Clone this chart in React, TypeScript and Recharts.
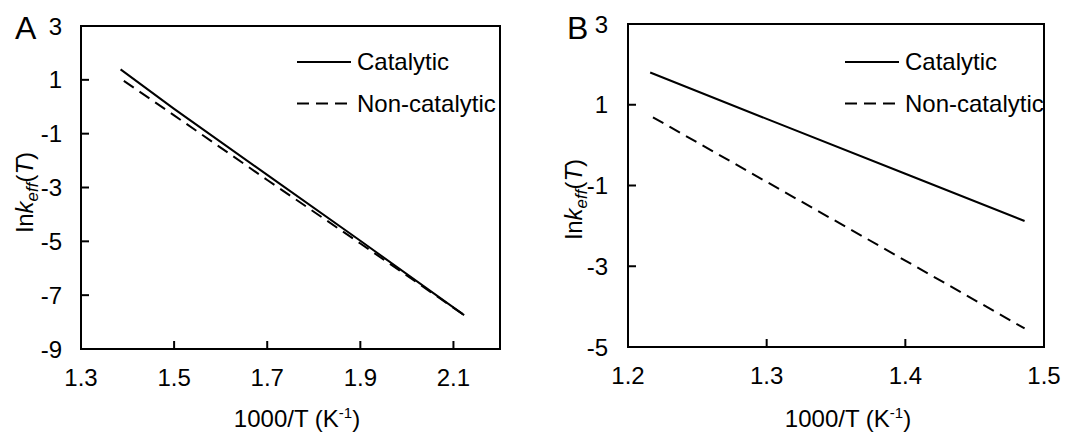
import { LineChart, Line, XAxis, YAxis, Legend, ReferenceArea, Customized } from "recharts";

// ─── DATA ────────────────────────────────────────────────────────────

const SERIES_NAMES = ["Catalytic", "Non-catalytic"];

// Panel A: ln k_eff vs 1000/T
const aCatalyticX = [1.385, 1.5, 1.7, 1.9, 2.123];
const aCatalyticY = [1.39, -0.08, -2.53, -4.98, -7.74];
const aNonCatalyticX = [1.392, 1.5, 1.7, 1.9, 2.123];
const aNonCatalyticY = [0.96, -0.32, -2.72, -5.08, -7.74];
const aXTicks = [1.3, 1.5, 1.7, 1.9, 2.1];
const aYTicks = [-9, -7, -5, -3, -1, 1, 3];

// Panel B
const bCatalyticX = [1.216, 1.3, 1.4, 1.486];
const bCatalyticY = [1.8, 0.65, -0.71, -1.88];
const bNonCatalyticX = [1.218, 1.3, 1.4, 1.486];
const bNonCatalyticY = [0.69, -0.91, -2.86, -4.54];
const bXTicks = [1.2, 1.3, 1.4, 1.5];
const bYTicks = [-5, -3, -1, 1, 3];

const toPoints = (xs: number[], ys: number[]) => xs.map((x, i) => ({ x, y: ys[i] }));

// ─── STYLE ───────────────────────────────────────────────────────────

const FONT = '"Liberation Sans", Arial, sans-serif';
const FS = 24;
const DASH = "12 7";
const dashFor: Record<string, string | undefined> = {
  Catalytic: undefined,
  "Non-catalytic": DASH,
};

// ─── PIECES ──────────────────────────────────────────────────────────

function LegendBox({ payload }: any) {
  const items = (payload ?? []) as any[];
  return (
    <svg width={230} height={90} style={{ overflow: "visible" }}>
      {items.map((it, i) => {
        const y = 22 + i * 41.5;
        return (
          <g key={it.value}>
            <line x1={0} x2={54} y1={y} y2={y} stroke="#000" strokeWidth={2} strokeDasharray={dashFor[it.value]} />
            <text x={60} y={y + 8} fontFamily={FONT} fontSize={FS} fill="#000">
              {it.value}
            </text>
          </g>
        );
      })}
    </svg>
  );
}

function Titles({ letter, letterX, yLabelX, yLabelY, xLabelX }: any) {
  return (
    <g fontFamily={FONT} fill="#000">
      <text x={letterX} y={38.5} fontSize={32}>
        {letter}
      </text>
      <text
        x={yLabelX}
        y={yLabelY}
        fontSize={FS}
        textAnchor="middle"
        transform={`rotate(-90 ${yLabelX} ${yLabelY})`}
      >
        ln<tspan fontStyle="italic">k</tspan>
        <tspan fontStyle="italic" fontSize={17} dy={5}>
          eff
        </tspan>
        <tspan dy={-5}>(</tspan>
        <tspan fontStyle="italic">T</tspan>)
      </text>
      <text x={xLabelX} y={427} fontSize={FS} textAnchor="middle">
        1000/T (K
        <tspan fontSize={15} dy={-9}>
          -1
        </tspan>
        <tspan dy={9}>)</tspan>
      </text>
    </g>
  );
}

type PanelProps = {
  left: number;
  width: number;
  margin: { top: number; right: number; bottom: number; left: number };
  xDomain: [number, number];
  yDomain: [number, number];
  xTicks: number[];
  yTicks: number[];
  cat: { x: number; y: number }[];
  nonCat: { x: number; y: number }[];
  yTickGap: number;
  legendLeft: number;
  titles: any;
};

function Panel(p: PanelProps) {
  const axisLine = { stroke: "#000", strokeWidth: 2 };
  const tickLine = { stroke: "#000", strokeWidth: 2 };
  const tickStyle = { fill: "#000", fontSize: FS, fontFamily: FONT };
  return (
    <div style={{ position: "absolute", left: p.left, top: 0 }}>
      <LineChart width={p.width} height={434} margin={p.margin}>
        <XAxis
          type="number"
          dataKey="x"
          domain={p.xDomain}
          ticks={p.xTicks}
          allowDataOverflow
          height={40}
          axisLine={axisLine}
          tickLine={tickLine}
          tickSize={-8}
          tickMargin={28}
          tick={tickStyle}
          tickFormatter={(v: number) => v.toFixed(1)}
          interval={0}
        />
        <YAxis
          type="number"
          dataKey="y"
          domain={p.yDomain}
          ticks={p.yTicks}
          allowDataOverflow
          width={60}
          axisLine={axisLine}
          tickLine={tickLine}
          tickSize={-8}
          tickMargin={8 + p.yTickGap}
          tick={tickStyle}
          interval={0}
        />
        <ReferenceArea
          x1={p.xDomain[0]}
          x2={p.xDomain[1]}
          y1={p.yDomain[0]}
          y2={p.yDomain[1]}
          fill="none"
          stroke="#000"
          strokeWidth={2}
        />
        <Line
          data={p.cat}
          dataKey="y"
          name={SERIES_NAMES[0]}
          stroke="#000"
          strokeWidth={2}
          dot={false}
          isAnimationActive={false}
        />
        <Line
          data={p.nonCat}
          dataKey="y"
          name={SERIES_NAMES[1]}
          stroke="#000"
          strokeWidth={2}
          strokeDasharray={DASH}
          dot={false}
          isAnimationActive={false}
        />
        <Legend
          layout="vertical"
          align="center"
          verticalAlign="middle"
          content={<LegendBox />}
          wrapperStyle={{ left: p.legendLeft, top: 40, width: 230 }}
        />
        <Customized component={() => <Titles {...p.titles} />} />
      </LineChart>
    </div>
  );
}

// ─── APP ─────────────────────────────────────────────────────────────

export default function App() {
  return (
    <div style={{ position: "absolute", left: 0, top: 0, width: 1079, height: 434, background: "#fff" }}>
      <Panel
        left={0}
        width={540}
        margin={{ top: 26, right: 40, bottom: 45, left: 21 }}
        xDomain={[1.3, 2.2]}
        yDomain={[-9, 3]}
        xTicks={aXTicks}
        yTicks={aYTicks}
        cat={toPoints(aCatalyticX, aCatalyticY)}
        nonCat={toPoints(aNonCatalyticX, aNonCatalyticY)}
        yTickGap={19}
        legendLeft={297}
        titles={{ letter: "A", letterX: 15, yLabelX: 33, yLabelY: 192, xLabelX: 297 }}
      />
      <Panel
        left={540}
        width={539}
        margin={{ top: 24, right: 35, bottom: 47, left: 28 }}
        xDomain={[1.2, 1.5]}
        yDomain={[-5, 3]}
        xTicks={bXTicks}
        yTicks={bYTicks}
        cat={toPoints(bCatalyticX, bCatalyticY)}
        nonCat={toPoints(bNonCatalyticX, bNonCatalyticY)}
        yTickGap={20}
        legendLeft={305}
        titles={{ letter: "B", letterX: 27, yLabelX: 41.5, yLabelY: 199, xLabelX: 308 }}
      />
    </div>
  );
}
